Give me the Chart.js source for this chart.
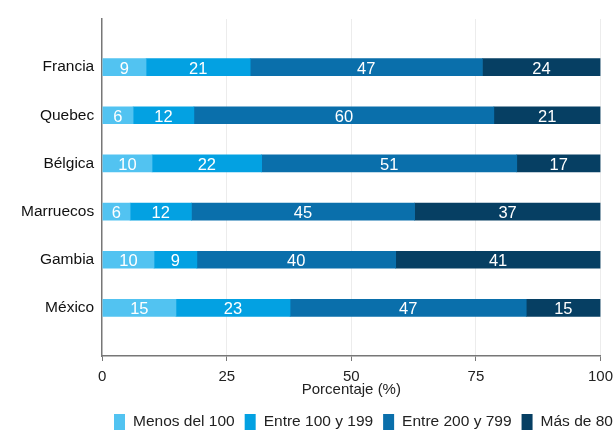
<!DOCTYPE html>
<html>
<head>
<meta charset="utf-8">
<script src="https://cdn.jsdelivr.net/npm/chart.js@4"></script>
<style>
  body { margin: 0; background: #fff; overflow: hidden; }
</style>
</head>
<body>
<canvas id="chart" width="621" height="433"></canvas>
<script>
// data (percent of respondents per group)
const categories = ["Francia", "Quebec", "Bélgica", "Marruecos", "Gambia", "México"];
const menos100 = [8.8, 6.2, 10.0, 5.6, 10.4, 14.8];
const entre100 = [20.9, 12.2, 22.0, 12.3, 8.6, 22.9];
const entre200 = [46.6, 60.2, 51.2, 44.8, 39.9, 47.4];
const mas800 = [23.7, 21.4, 16.8, 37.3, 41.1, 14.9];
const seriesNames = ["Menos del 100", "Entre 100 y 199", "Entre 200 y 799", "Más de 800"];
const xTicks = [0, 25, 50, 75, 100];

const colors = ["#52c3f1", "#03a1e2", "#0a6fab", "#063f63"];

// empty slot above and below so the bars sit like in the original plot
const labels = [""].concat(categories, [""]);
function pad(arr) {
  return [null].concat(arr, [null]);
}

// value labels inside each segment
const barLabels = {
  id: "barLabels",
  afterDatasetsDraw(chart) {
    const ctx = chart.ctx;
    ctx.save();
    ctx.font = "16.5px 'Liberation Sans', Arial, sans-serif";
    ctx.fillStyle = "#ffffff";
    ctx.textAlign = "center";
    ctx.textBaseline = "middle";
    chart.data.datasets.forEach((ds, i) => {
      const meta = chart.getDatasetMeta(i);
      meta.data.forEach((bar, j) => {
        const v = ds.data[j];
        if (v == null) return;
        ctx.fillText(Math.round(v), (bar.x + bar.base) / 2, bar.y + 2);
      });
    });
    ctx.restore();
  },
};

// legend row at the bottom (runs past the right edge like the original)
const bottomLegend = {
  id: "bottomLegend",
  afterDraw(chart) {
    const ctx = chart.ctx;
    ctx.save();
    ctx.font = "15.5px 'Liberation Sans', Arial, sans-serif";
    ctx.textBaseline = "middle";
    let x = 114;
    const y = 422;
    chart.data.datasets.forEach((ds) => {
      ctx.fillStyle = ds.backgroundColor;
      ctx.fillRect(x, y - 8, 11, 16);
      x += 11 + 8;
      ctx.fillStyle = "#222";
      ctx.fillText(ds.label, x, y);
      x += ctx.measureText(ds.label).width + 10;
    });
    ctx.restore();
  },
};

const seriesData = [menos100, entre100, entre200, mas800];

const ctx = document.getElementById("chart").getContext("2d");
const myChart = new Chart(ctx, {
  type: "bar",
  data: {
    labels: labels,
    datasets: seriesData.map((arr, i) => ({
      label: seriesNames[i],
      data: pad(arr),
      backgroundColor: colors[i],
      borderWidth: 0,
      barThickness: 17,
    })),
  },
  options: {
    indexAxis: "y",
    responsive: false,
    animation: false,
    devicePixelRatio: 1,
    layout: { padding: { top: 19, left: 13, right: 0, bottom: 36 } },
    plugins: {
      legend: { display: false },
      tooltip: { enabled: false },
    },
    scales: {
      x: {
        stacked: true,
        min: 0,
        max: 100,
        afterBuildTicks(scale) {
          scale.ticks = xTicks.map((v) => ({ value: v }));
        },
        grid: {
          color: (c) => (c.tick && c.tick.value === 0 ? "rgba(0,0,0,0)" : "#ececec"),
          tickColor: "#777",
          tickLength: 5,
        },
        border: { display: true, color: "#777", width: 1.5 },
        ticks: {
          color: "#222",
          font: { family: "'Liberation Sans', Arial, sans-serif", size: 15, lineHeight: 1 },
          padding: 8,
          maxRotation: 0,
        },
        title: {
          display: true,
          text: "Porcentaje (%)",
          color: "#222",
          font: { family: "'Liberation Sans', Arial, sans-serif", size: 15, lineHeight: 1 },
          padding: { top: -10, bottom: 0 },
        },
      },
      y: {
        stacked: true,
        offset: false,
        grid: { display: false, drawTicks: false },
        border: { display: true, color: "#777", width: 1.5 },
        ticks: {
          color: "#111",
          font: { family: "'Liberation Sans', Arial, sans-serif", size: 15.5 },
          padding: 8,
          autoSkip: false,
        },
      },
    },
  },
  plugins: [barLabels, bottomLegend],
});
</script>
</body>
</html>
